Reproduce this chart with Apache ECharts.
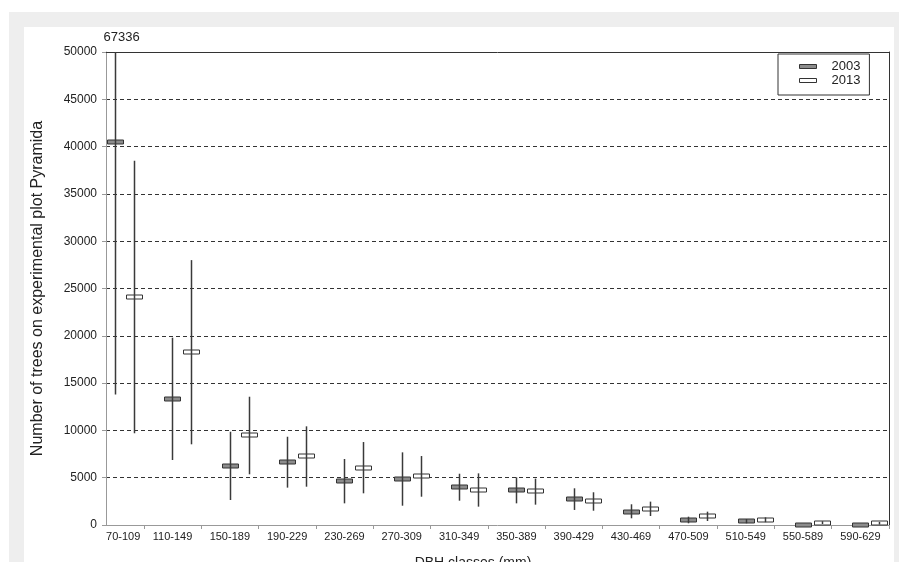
<!DOCTYPE html>
<html>
<head>
<meta charset="utf-8">
<script src="https://cdn.jsdelivr.net/npm/echarts@6/dist/echarts.min.js"></script>
<style>
  html, body { margin: 0; padding: 0; background: #ffffff; }
  #outer { position: absolute; left: 9px; top: 12px; width: 890px; height: 550px; background: #eeeeee; }
  #inner { position: absolute; left: 24px; top: 27px; width: 870px; height: 535px; background: #ffffff; }
  #chart { position: absolute; left: 0; top: 0; width: 899px; height: 562px; }
</style>
</head>
<body>
<div id="outer"></div>
<div id="inner"></div>
<div id="chart"></div>
<script>
const categories = ['70-109','110-149','150-189','190-229','230-269','270-309','310-349','350-389','390-429','430-469','470-509','510-549','550-589','590-629'];
const mean2003 = [40500, 13350, 6270, 6690, 4670, 4860, 3980, 3700, 2780, 1410, 530, 420, 40, 40];
const low2003  = [13800, 6870, 2640, 3950, 2290, 2040, 2570, 2290, 1590, 710, 180, 180, 40, 40];
const high2003 = [67336, 19800, 9860, 9330, 6980, 7680, 5420, 5040, 3880, 2190, 880, 630, 40, 40];
const mean2013 = [24100, 18290, 9480, 7290, 6060, 5210, 3730, 3560, 2500, 1690, 920, 530, 250, 180];
const low2013  = [9700, 8530, 5360, 4050, 3350, 2990, 1940, 2150, 1510, 950, 420, 300, 100, 50];
const high2013 = [38500, 28000, 13560, 10430, 8770, 7290, 5460, 4900, 3460, 2470, 1410, 810, 400, 330];
const yTicks = [0, 5000, 10000, 15000, 20000, 25000, 30000, 35000, 40000, 45000, 50000];

const FONT = 'Liberation Sans';
const Y_MAX = 50000;
const X_MIN = -0.16, X_MAX = 13.5;

function build(mean, low, high) {
  return categories.map((c, i) => [i, mean[i], low[i], high[i]]);
}

function makeRender(offsetPx, fill) {
  return function (params, api) {
    const i = api.value(0), m = api.value(1), lo = api.value(2), hi = api.value(3);
    const pM = api.coord([i, m]);
    const pLo = api.coord([i, lo]);
    const pHi = api.coord([i, Math.min(hi, Y_MAX)]);
    const x = Math.round(pM[0] + offsetPx) + 0.5;
    const children = [
      { type: 'rect', shape: { x: x - 8, y: Math.round(pM[1]) - 2, width: 16, height: 4 },
        style: { fill: fill, stroke: '#333', lineWidth: 1 } },
      { type: 'line', shape: { x1: x, y1: pLo[1], x2: x, y2: pHi[1] },
        style: { stroke: '#3a3a3a', lineWidth: 1.5 } }
    ];
    if (hi > Y_MAX) {
      children.push({ type: 'text', x: x - 12, y: pHi[1] - 8,
        style: { text: String(hi), fill: '#222', font: '13px "' + FONT + '"', verticalAlign: 'bottom', align: 'left' } });
    }
    return { type: 'group', children: children };
  };
}

const chart = echarts.init(document.getElementById('chart'), null, { renderer: 'canvas' });
chart.setOption({
  animation: false,
  backgroundColor: 'transparent',
  textStyle: { fontFamily: FONT },
  title: {
    text: 'DBH classes (mm)', left: 468, top: 551, textAlign: 'center',
    textStyle: { fontSize: 14, fontWeight: 'normal', color: '#222', fontFamily: FONT }
  },
  legend: {
    orient: 'vertical', left: 778, top: 54,
    padding: [6, 9, 8, 21], itemGap: 1,
    backgroundColor: '#fff', borderColor: '#333', borderWidth: 1,
    itemWidth: 17, itemHeight: 4,
    textStyle: { fontSize: 13, color: '#222', fontFamily: FONT, padding: [0, 0, 0, 10] },
    data: [
      { name: '2003', icon: 'rect', itemStyle: { color: '#8c8c8c', borderColor: '#333', borderWidth: 1 } },
      { name: '2013', icon: 'rect', itemStyle: { color: '#ffffff', borderColor: '#333', borderWidth: 1 } }
    ]
  },
  grid: { left: 106, right: 10, top: 52, bottom: 37 },
  xAxis: [{
    type: 'value', min: X_MIN, max: X_MAX,
    splitLine: { show: false },
    axisLine: { show: true, onZero: false, lineStyle: { color: '#999', width: 1 } },
    axisTick: { show: true, length: 4, lineStyle: { color: '#999' },
      customValues: categories.map((c, i) => i + 0.5) },
    axisLabel: {
      customValues: categories.map((c, i) => i),
      margin: 6, fontSize: 11, color: '#222', fontFamily: FONT,
      formatter: function (v) {
        const idx = Math.round(v);
        return idx === 0 ? '{first|' + categories[idx] + '}' : categories[idx];
      },
      rich: { first: { padding: [0, 0, 0, 16], fontSize: 11, color: '#222', fontFamily: FONT } }
    }
  }, {
    type: 'value', position: 'top', min: X_MIN, max: X_MAX,
    splitLine: { show: false }, axisTick: { show: false }, axisLabel: { show: false },
    axisLine: { show: true, onZero: false, lineStyle: { color: '#333', width: 1 } }
  }],
  yAxis: [{
    type: 'value', min: 0, max: Y_MAX, interval: 5000,
    name: 'Number of trees on experimental plot Pyramida',
    nameLocation: 'middle', nameRotate: 90, nameGap: 60,
    nameTextStyle: { fontSize: 16, color: '#222', fontFamily: FONT },
    axisLine: { show: true, onZero: false, lineStyle: { color: '#999', width: 1 } },
    axisTick: { show: true, length: 4, lineStyle: { color: '#999' } },
    axisLabel: { margin: 9, fontSize: 12, color: '#222', fontFamily: FONT,
      formatter: function (v) { return yTicks.indexOf(v) >= 0 ? String(v) : ''; } },
    splitLine: { show: true, showMinLine: false, lineStyle: { color: '#333', type: [4, 3], width: 1 } }
  }, {
    type: 'value', position: 'right', min: 0, max: Y_MAX,
    splitLine: { show: false }, axisTick: { show: false }, axisLabel: { show: false },
    axisLine: { show: true, onZero: false, lineStyle: { color: '#333', width: 1 } }
  }],
  series: [{
    name: '2003', type: 'custom', xAxisIndex: 0, yAxisIndex: 0,
    itemStyle: { color: '#8c8c8c', borderColor: '#333', borderWidth: 1 },
    renderItem: makeRender(0, '#8c8c8c'),
    data: build(mean2003, low2003, high2003), z: 5
  }, {
    name: '2013', type: 'custom', xAxisIndex: 0, yAxisIndex: 0,
    itemStyle: { color: '#ffffff', borderColor: '#333', borderWidth: 1 },
    renderItem: makeRender(19, '#ffffff'),
    data: build(mean2013, low2013, high2013), z: 5
  }]
});
</script>
</body>
</html>
